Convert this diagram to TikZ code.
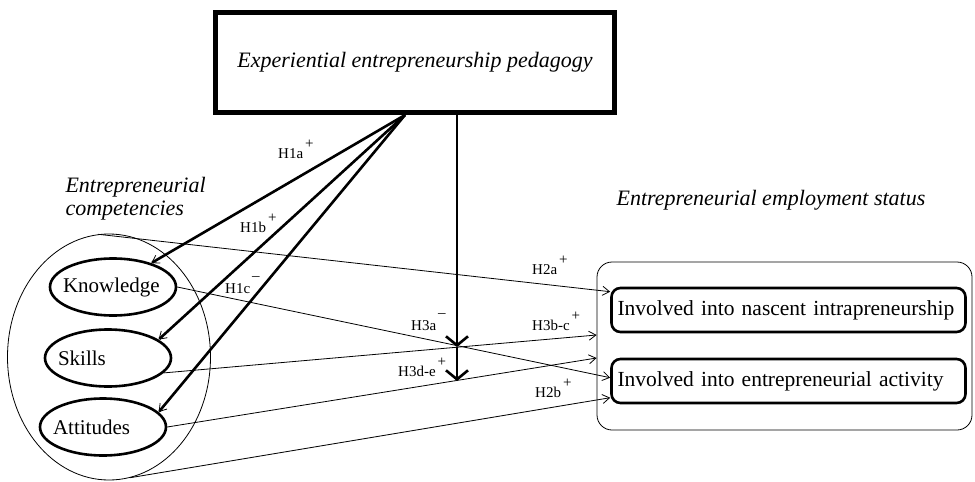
\documentclass[tikz,border=0pt]{standalone}
\usepackage{fontspec}
\setmainfont{Liberation Serif}
\usetikzlibrary{shapes.geometric,arrows.meta}
\newcommand{\hplus}{\hspace{2pt}\raisebox{9.5pt}{+}}
\newcommand{\hminus}{\hspace{2pt}\raisebox{13pt}{\textendash}}
\begin{document}
\begin{tikzpicture}[x=1pt,y=-1pt,
    thinline/.style={line width=0.8pt,-{Straight Barb[length=7pt,width=9pt,line width=0.8pt]}},
    thickline/.style={line width=2.6pt,-{Straight Barb[length=7pt,width=9pt,line width=0.8pt]}},
    mainline/.style={line width=2.6pt,-{Straight Barb[length=9pt,width=22pt]}},
    compnode/.style={draw,ellipse,line width=2.6pt,minimum width=126pt,minimum height=57pt,inner xsep=-6pt,inner ysep=0pt,text width=100pt,align=left,font=\fontsize{21}{24}\selectfont},
    statusnode/.style={draw,rounded corners=9pt,line width=2.6pt,minimum width=354pt,minimum height=44pt,inner sep=0pt,text width=342pt,align=left,font=\fontsize{21.5}{24}\selectfont},
    title/.style={font=\fontsize{22}{25}\selectfont\itshape},
    hyp/.style={font=\fontsize{15}{17}\selectfont,inner sep=0pt,anchor=base west}]
  \useasboundingbox (0,0) rectangle (975,482);
  \node[draw,line width=5pt,minimum width=399pt,minimum height=100pt,title] (ped) at (415,62.5) {Experiential entrepreneurship pedagogy\hspace{12pt}};
  \node[draw,ellipse,line width=0.8pt,minimum width=203pt,minimum height=246pt] (comp) at (109,357) {};
  \node[compnode] (know) at (113,287) {Knowledge};
  \node[compnode] (skills) at (108,358) {Skills};
  \node[compnode] (att) at (103,427) {Attitudes};
  \node[draw,rounded corners=15pt,line width=0.8pt,minimum width=375pt,minimum height=168pt] (outer) at (784.5,346) {};
  \node[statusnode] (nasc) at (788.5,310) {Involved into nascent intrapreneurship};
  \node[statusnode] (act) at (788.5,381) {Involved into entrepreneurial activity};
  \node[title,anchor=base west] (comptitle) at (62,192) {Entrepreneurial};
  \node[title,anchor=base west] (comptitle2) at (62,215) {competencies};
  \node[title,anchor=base] (statustitle) at (771,205) {Entrepreneurial employment status};
  \coordinate (fan) at ([xshift=-10pt]ped.south);
  \coordinate (x1) at (457,347);
  \coordinate (x2) at (457,381);
  \begin{scope}
    \draw[thickline] (fan) to (know.32);
    \draw[thickline] (fan) to (skills.20);
    \draw[thickline] (fan) to (att.15);
    \draw[mainline] (ped.south -| x1) -- (x1);
    \draw[mainline] (x1) -- (x2);
    \draw[thinline] (comp.95) to ([yshift=-5pt]nasc.north west);
    \draw[thinline] (know.east) to ([yshift=-20pt]act.north west);
    \draw[thinline] (skills.-15) to ([yshift=11pt]outer.west);
    \draw[thinline] (att.east) to ([yshift=-12pt]outer.west);
    \draw[thinline] (comp.-80) to ([yshift=-40pt]act.north west);
  \end{scope}
  \node[hyp] (h1a) at (278,158) {H1a\hplus};
  \node[hyp] (h1b) at (240,232) {H1b\hplus};
  \node[hyp] (h1c) at (225,293) {H1c\hminus};
  \node[hyp] (h2a) at (532,274) {H2a\hplus};
  \node[hyp] (h3a) at (411,330) {H3a\hminus};
  \node[hyp] (h3bc) at (532,330) {H3b-c\hplus};
  \node[hyp] (h3de) at (398,376) {H3d-e\hplus};
  \node[hyp] (h2b) at (535,397) {H2b\hplus};
\end{tikzpicture}
\end{document}
